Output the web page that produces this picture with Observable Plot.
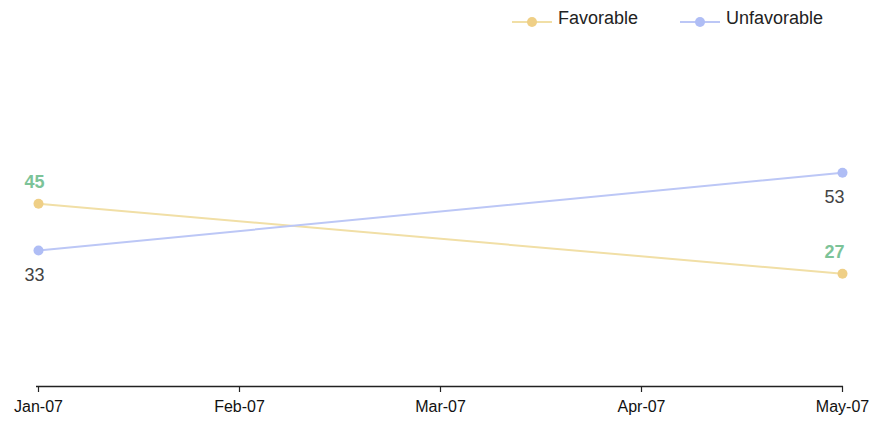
<!DOCTYPE html>
<html>
<head>
<meta charset="utf-8">
<script src="https://cdn.jsdelivr.net/npm/d3@7"></script>
<script src="https://cdn.jsdelivr.net/npm/@observablehq/plot@0.6"></script>
<style>
  body { margin: 0; background: #fff; font-family: "Liberation Sans", Arial, sans-serif; }
  #wrap { width: 875px; height: 423px; position: relative; overflow: hidden; }
  #legend { position: relative; height: 36px; width: 875px; }
  .item { position: absolute; top: 8px; display: flex; align-items: center; font-size: 18px; color: #222; }
  .item svg { margin-right: 6px; margin-top: 6px; }
</style>
</head>
<body>
<div id="wrap">
  <div id="legend"></div>
  <div id="chart"></div>
</div>
<script>
const months = ["Jan-07", "Feb-07", "Mar-07", "Apr-07", "May-07"];
const seriesNames = ["Favorable", "Unfavorable"];
const favorableMonths = ["Jan-07", "May-07"];
const favorableValues = [45, 27];
const unfavorableMonths = ["Jan-07", "May-07"];
const unfavorableValues = [33, 53];
const yDomain = [-2, 60];

const lineColors = {Favorable: "#f1dfa6", Unfavorable: "#bcc7f6"};
const dotColors = {Favorable: "#efcf86", Unfavorable: "#afbdf5"};

const data = [
  ...favorableMonths.map((m, i) => ({series: "Favorable", month: m, value: favorableValues[i]})),
  ...unfavorableMonths.map((m, i) => ({series: "Unfavorable", month: m, value: unfavorableValues[i]}))
];

const labelData = data.map(d => ({
  ...d,
  dy: d.series === "Favorable" ? -22 : 25,
  dx: d.month === "May-07" ? -8 : -4,
  fill: d.series === "Favorable" ? "#7cc398" : "#444",
  weight: d.series === "Favorable" ? "bold" : "normal"
}));

const chart = Plot.plot({
  width: 875,
  height: 387,
  marginLeft: 36,
  marginRight: 32,
  marginTop: 109,
  marginBottom: 37,
  style: {fontFamily: "'Liberation Sans', Arial, sans-serif", background: "#fff"},
  x: {type: "point", domain: months, padding: 0, label: null},
  y: {domain: yDomain, axis: null},
  marks: [
    Plot.ruleY([yDomain[0]], {stroke: "#222", strokeWidth: 1.5}),
    Plot.axisX({tickSize: 6, tickPadding: 8, fontSize: 16, fill: "#111", stroke: "#222", strokeWidth: 1.2}),
    Plot.line(data, {x: "month", y: "value", z: "series", stroke: d => lineColors[d.series], strokeWidth: 2}),
    Plot.dot(data, {x: "month", y: "value", r: 5, fill: d => dotColors[d.series], stroke: "none"}),
    ...labelData.map(d => Plot.text([d], {
      x: "month", y: "value", text: dd => String(dd.value),
      dy: d.dy, dx: d.dx, fill: d.fill, fontWeight: d.weight, fontSize: 18
    }))
  ]
});
document.getElementById("chart").appendChild(chart);

const legend = document.getElementById("legend");
const legendX = [512, 680];
seriesNames.forEach((name, i) => {
  const item = document.createElement("div");
  item.className = "item";
  item.style.left = legendX[i] + "px";
  item.innerHTML = `<svg width="40" height="12"><line x1="0" y1="6" x2="40" y2="6" stroke="${lineColors[name]}" stroke-width="2"/><circle cx="20" cy="6" r="5" fill="${dotColors[name]}"/></svg><span>${name}</span>`;
  legend.appendChild(item);
});
</script>
</body>
</html>
